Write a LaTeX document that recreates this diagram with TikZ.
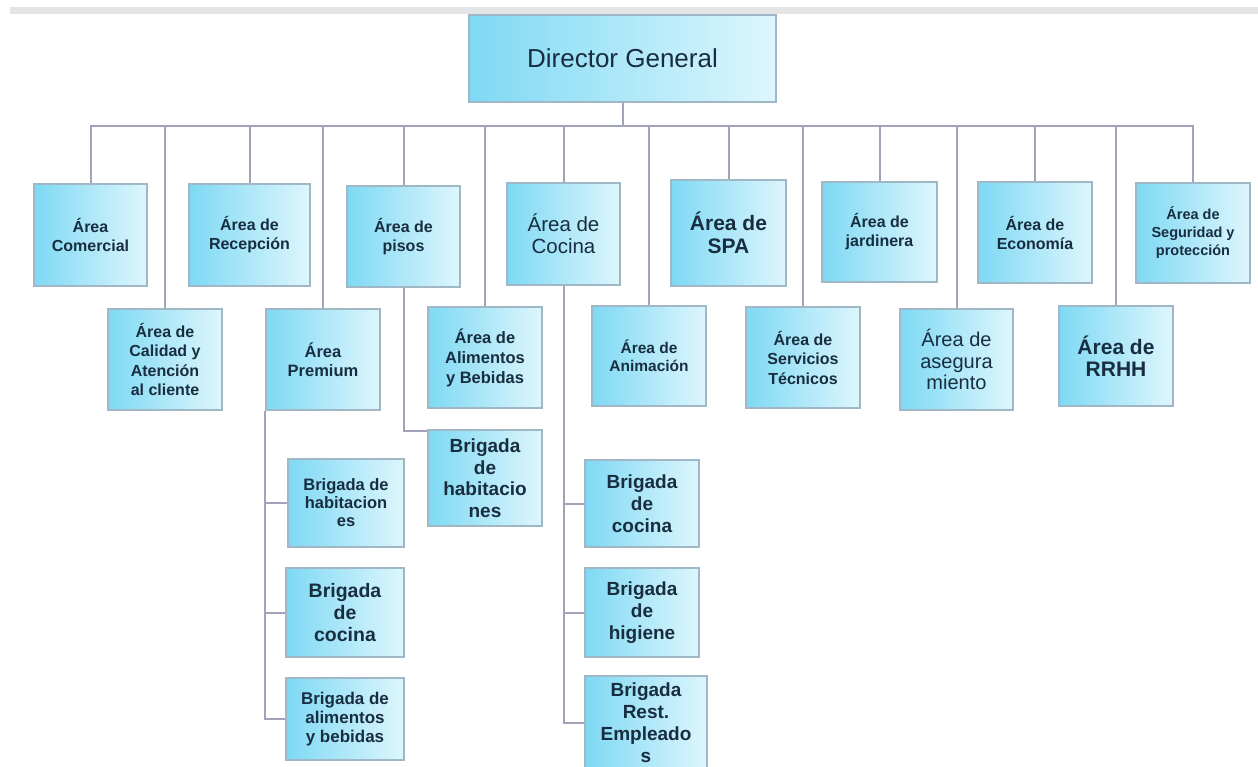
\documentclass[tikz,border=0pt]{standalone}
\usepackage{fontspec}
\setmainfont{Liberation Sans}
\usetikzlibrary{calc}
\definecolor{cL}{RGB}{126,217,244}
\definecolor{cR}{RGB}{222,246,253}
\definecolor{bd}{RGB}{160,184,198}
\definecolor{ln}{RGB}{160,163,186}
\definecolor{tx}{RGB}{24,46,64}
\definecolor{barc}{RGB}{227,228,230}
\begin{document}
\begin{tikzpicture}[x=1pt,y=-1pt,
  box/.style={draw=bd,line width=1.3pt,left color=cL,right color=cR,align=center,text=tx,inner sep=0pt},
  conn/.style={draw=ln,line width=2pt},
  fr/.style n args={2}{font=\fontsize{#1}{#2}\selectfont},
  fb/.style n args={2}{font=\fontsize{#1}{#2}\selectfont\bfseries}]
\useasboundingbox (0,0) rectangle (1258,767);
\clip (0,0) rectangle (1258,767);
\fill[barc] (10,7) rectangle (1258,14.5);

% top
\node[box,fr={26}{28},minimum width=307,minimum height=87] (dg) at (622.5,58.5) {Director General};

% first row
\node[box,fb={16}{19},minimum width=113,minimum height=102] (com) at (90.5,235) {Área\\Comercial};
\node[box,fb={16}{19},minimum width=121,minimum height=102] (rec) at (249.5,235) {Área de\\Recepción};
\node[box,fb={16}{19},minimum width=113,minimum height=101] (pis) at (403.5,236.5) {Área de\\pisos};
\node[box,fr={20.5}{22},minimum width=113,minimum height=102] (coc) at (563.5,234) {Área de\\Cocina};
\node[box,fb={21}{23},minimum width=115,minimum height=106] (spa) at (728.5,233) {Área de\\SPA};
\node[box,fb={16}{19},minimum width=115,minimum height=100] (jar) at (879.5,232) {Área de\\jardinera};
\node[box,fb={16}{19},minimum width=114,minimum height=101] (eco) at (1035,232.5) {Área de\\Economía};
\node[box,fb={14.5}{18},minimum width=114,minimum height=100] (seg) at (1193,233) {Área de\\Seguridad y\\protección};

% second row
\node[box,fb={16}{19.5},minimum width=114,minimum height=101] (cal) at (165,359.5) {Área de\\Calidad y\\Atención\\al cliente};
\node[box,fb={16.5}{19},minimum width=114,minimum height=101] (pre) at (323,359.5) {Área\\Premium};
\node[box,fb={16.5}{20},minimum width=114,minimum height=101] (ali) at (485,357.5) {Área de\\Alimentos\\y Bebidas};
\node[box,fb={15.5}{18},minimum width=114,minimum height=100] (ani) at (649,356) {Área de\\Animación};
\node[box,fb={16}{19.5},minimum width=114,minimum height=101] (ser) at (803,357.5) {Área de\\Servicios\\Técnicos};
\node[box,fr={20}{21.5},minimum width=113,minimum height=101] (ase) at (956.5,359.5) {Área de\\asegura\\miento};
\node[box,fb={21}{22.5},minimum width=114,minimum height=100] (rrhh) at (1116,356) {Área de\\RRHH};

% brigadas
\node[box,fb={16.5}{18},minimum width=116,minimum height=88] (bh1) at (346,503) {Brigada de\\habitacion\\es};
\node[box,fb={19.5}{22},minimum width=118,minimum height=89] (bc1) at (345,612.5) {Brigada\\de\\cocina};
\node[box,fb={17}{19},minimum width=118,minimum height=82] (ba1) at (345,719) {Brigada de\\alimentos\\y bebidas};
\node[box,fb={19}{21.5},minimum width=114,minimum height=96] (bh2) at (485,478) {Brigada\\de\\habitacio\\nes};
\node[box,fb={19}{22},minimum width=114,minimum height=87] (bc2) at (642,503.5) {Brigada\\de\\cocina};
\node[box,fb={19}{22},minimum width=114,minimum height=89] (bhi) at (642,612.5) {Brigada\\de\\higiene};
\node[box,fb={19}{22},minimum width=122,minimum height=94] (bre) at (646,723) {Brigada\\Rest.\\Empleado\\s};

% connectors
\coordinate (bus) at ($(dg.south)+(0,23)$);
\draw[conn] (dg.south) -- (bus);
\foreach \n in {com,cal,rec,pre,pis,ali,coc,ani,spa,ser,jar,ase,eco,rrhh,seg}
  \draw[conn] (bus) -| (\n.north);
\draw[conn] (pre.south west) |- (bh1.west);
\draw[conn] (pre.south west) |- (bc1.west);
\draw[conn] (pre.south west) |- (ba1.west);
\draw[conn] (pis.south) |- ($(bh2.north west)+(0,2)$);
\draw[conn] (coc.south) |- (bc2.west);
\draw[conn] (coc.south) |- (bhi.west);
\draw[conn] (coc.south) |- (bre.west);
\end{tikzpicture}
\end{document}
